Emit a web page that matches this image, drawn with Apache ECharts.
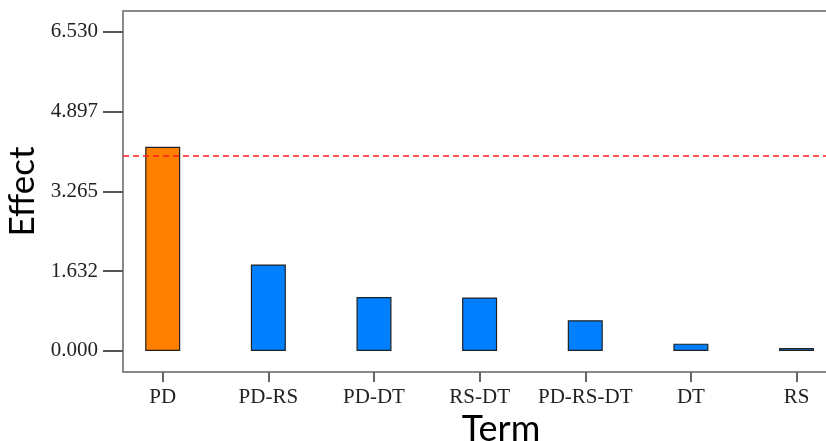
<!DOCTYPE html>
<html>
<head>
<meta charset="utf-8">
<script src="https://cdn.jsdelivr.net/npm/echarts@6/dist/echarts.min.js"></script>
<style>html,body{margin:0;padding:0;background:#fff}#c{width:826px;height:441px}</style>
</head>
<body>
<div id="c"></div>
<script>
// ---- data ----
const terms = ['PD', 'PD-RS', 'PD-DT', 'RS-DT', 'PD-RS-DT', 'DT', 'RS'];
const effects = [4.176, 1.769, 1.105, 1.095, 0.628, 0.15, 0.06];
const threshold = 4.0;
const yTickValues = [0, 1.6325, 3.265, 4.8975, 6.53];
const yTickLabels = ['0.000', '1.632', '3.265', '4.897', '6.530'];
const xPositions = [1, 2, 3, 4, 5, 6, 7];

const chart = echarts.init(document.getElementById('c'));
const serif = 'Liberation Serif';
const sans = 'Lato';

const barData = effects.map((v, i) => ({
  value: [xPositions[i], v],
  itemStyle: { color: v > threshold ? '#ff8000' : '#0080ff' }
}));

chart.setOption({
  animation: false,
  grid: { left: 123, right: 0, top: 11, bottom: 69, outerBoundsMode: 'none', containLabel: false },
  xAxis: [{
    type: 'value', min: 0.624, max: 7.279,
    axisLine: { show: true, onZero: false, lineStyle: { color: '#8a8a8a', width: 2 } },
    axisTick: { show: true, customValues: xPositions, length: 10, lineStyle: { color: '#666', width: 2 } },
    axisLabel: {
      customValues: xPositions, margin: 15,
      fontFamily: serif, fontSize: 21, color: '#222',
      formatter: v => terms[Math.round(v) - 1] || ''
    },
    splitLine: { show: false }
  }, {
    type: 'value', position: 'top', min: 0.624, max: 7.279,
    axisLine: { show: true, onZero: false, lineStyle: { color: '#8a8a8a', width: 2 } },
    axisTick: { show: false }, axisLabel: { show: false }, splitLine: { show: false }
  }],
  yAxis: {
    type: 'value', min: -0.43, max: 6.954,
    name: 'Effect', nameLocation: 'middle', nameRotate: 90, nameGap: 76,
    nameTextStyle: { fontFamily: sans, fontSize: 35, color: '#000' },
    axisLine: { show: true, onZero: false, lineStyle: { color: '#8a8a8a', width: 2 } },
    axisTick: { show: true, customValues: yTickValues, length: 20, lineStyle: { color: '#555', width: 2 } },
    axisLabel: {
      customValues: yTickValues, margin: 25,
      fontFamily: serif, fontSize: 21, color: '#222',
      formatter: v => {
        let best = 0;
        yTickValues.forEach((t, i) => { if (Math.abs(t - v) < Math.abs(yTickValues[best] - v)) best = i; });
        return yTickLabels[best];
      }
    },
    splitLine: { show: false }
  },
  graphic: [{
    type: 'text', x: 501, y: 411,
    style: { text: 'Term', fontFamily: sans, fontSize: 36, fill: '#000', align: 'center' }
  }],
  series: [{
    type: 'bar', xAxisIndex: 0, barWidth: 35,
    data: barData,
    itemStyle: { borderColor: '#222', borderWidth: 1.2 },
    markLine: {
      silent: true, symbol: 'none', label: { show: false },
      lineStyle: { color: '#ff1a1a', type: [6, 4], width: 1.5 },
      data: [{ yAxis: threshold }]
    }
  }]
});
</script>
</body>
</html>
